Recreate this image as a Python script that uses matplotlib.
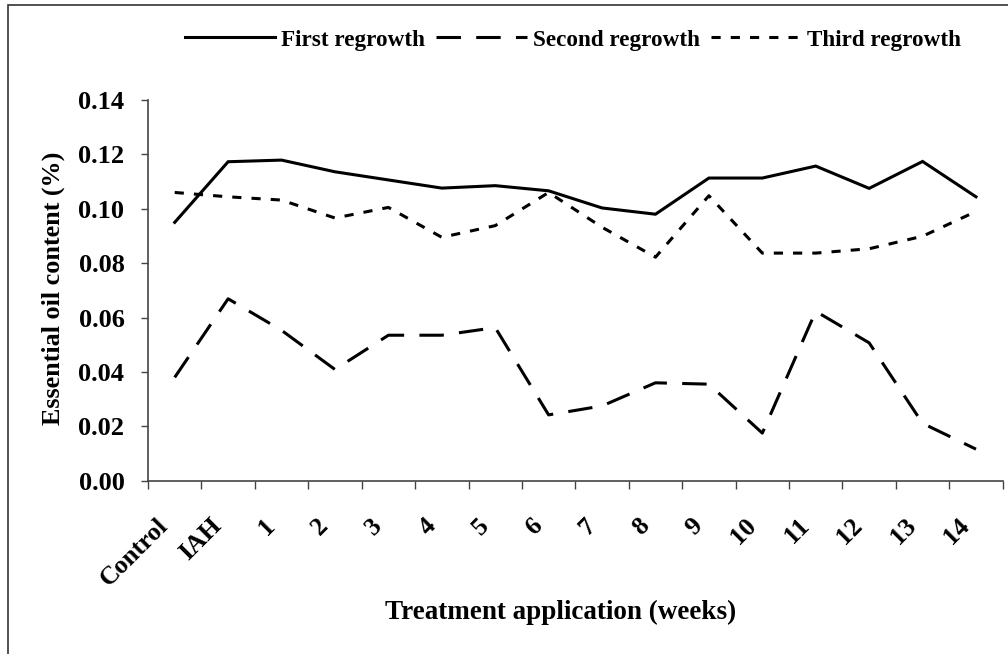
import matplotlib
matplotlib.use("Agg")
import matplotlib.pyplot as plt
import matplotlib.transforms as mtransforms
from matplotlib.patches import Rectangle

categories = ["Control", "IAH", "1", "2", "3", "4", "5", "6", "7", "8",
              "9", "10", "11", "12", "13", "14"]
first_regrowth = [0.095, 0.1173, 0.1179, 0.1136, 0.1106, 0.1076, 0.1085, 0.1066,
                  0.1003, 0.0980, 0.1113, 0.1113, 0.1157, 0.1075, 0.1174, 0.1044]
second_regrowth = [0.0380, 0.0669, 0.0553, 0.0409, 0.0535, 0.0535, 0.0563, 0.0242,
                   0.0275, 0.0360, 0.0355, 0.0175, 0.0623, 0.0507, 0.0211, 0.0116]
third_regrowth = [0.1060, 0.1044, 0.1032, 0.0966, 0.1005, 0.0895, 0.0938, 0.1060,
                  0.0932, 0.0822, 0.1048, 0.0837, 0.0837, 0.0853, 0.0899, 0.0990]
series_names = ["First regrowth", "Second regrowth", "Third regrowth"]
y_ticks = [0.00, 0.02, 0.04, 0.06, 0.08, 0.10, 0.12, 0.14]

plt.rcParams['font.family'] = ['Liberation Serif', 'DejaVu Serif']
plt.rcParams['font.weight'] = 'bold'

fig = plt.figure(figsize=(10.08, 6.54), dpi=100)
ax = fig.add_axes([148 / 1008, 1 - 480.7 / 654, (1002.7 - 148) / 1008, (480.7 - 100) / 654])

x = list(range(len(categories)))
lw = 2.2
ax.plot(x, first_regrowth, color='black', lw=lw, linestyle='-', label=series_names[0],
        solid_joinstyle='miter')
ax.plot(x, second_regrowth, color='black', lw=lw, linestyle=(0, (8, 5)), label=series_names[1])
ax.plot(x, third_regrowth, color='black', lw=lw, linestyle=(0, (3, 3.3)), label=series_names[2])

ax.set_xlim(-0.5, len(categories) - 0.5)
ax.set_ylim(0, 0.14)
ax.set_yticks(y_ticks)
ax.set_yticklabels([f"{v:.2f}" for v in y_ticks], fontsize=19, fontweight='bold')

# category boundary ticks (major) and labels at centers (minor)
ax.set_xticks([i - 0.5 for i in range(len(categories) + 1)])
ax.set_xticklabels([])
ax.set_xticks(x, minor=True)
ax.set_xticklabels(categories, minor=True, rotation=45, ha='right', va='center',
                   rotation_mode='anchor', fontsize=18.5, fontweight='bold')
ax.tick_params(axis='x', which='major', direction='out', length=6, width=1, color='#444444')
ax.tick_params(axis='x', which='minor', length=0, pad=30)
ax.tick_params(axis='y', direction='out', length=5, width=1, color='#444444', pad=12)
offset = mtransforms.ScaledTranslation(-10 / 100, 0, fig.dpi_scale_trans)
for lab in ax.get_xticklabels(minor=True):
    lab.set_transform(lab.get_transform() + offset)

for s in ['top', 'right']:
    ax.spines[s].set_visible(False)
for s in ['left', 'bottom']:
    ax.spines[s].set_color('#444444')
    ax.spines[s].set_linewidth(1.2)

ax.set_ylabel("Essential oil content (%)", fontsize=18.8, fontweight='bold',
              va='center', ha='center')
ax.yaxis.set_label_coords((53 - 148) / 854.7, (480.7 - 288) / 380.7)
ax.set_xlabel("Treatment application (weeks)", fontsize=19.5, fontweight='bold',
              va='center', ha='center')
ax.xaxis.set_label_coords((561 - 148) / 854.7, (480.7 - 612) / 380.7)

leg = fig.legend(loc='center', bbox_to_anchor=(573 / 1008, 1 - 40 / 654), ncol=3,
                 frameon=False, handlelength=3.9, handletextpad=0.25,
                 columnspacing=0.5, prop={'weight': 'bold', 'size': 16.7})

# outer chart border
fig.patches.append(Rectangle((7.5 / 1008, -0.1), 1.2, 1 - 5 / 654 + 0.1,
                             transform=fig.transFigure, fill=False,
                             edgecolor='#333333', lw=1.2))

fig.savefig("out.png", dpi=100)
